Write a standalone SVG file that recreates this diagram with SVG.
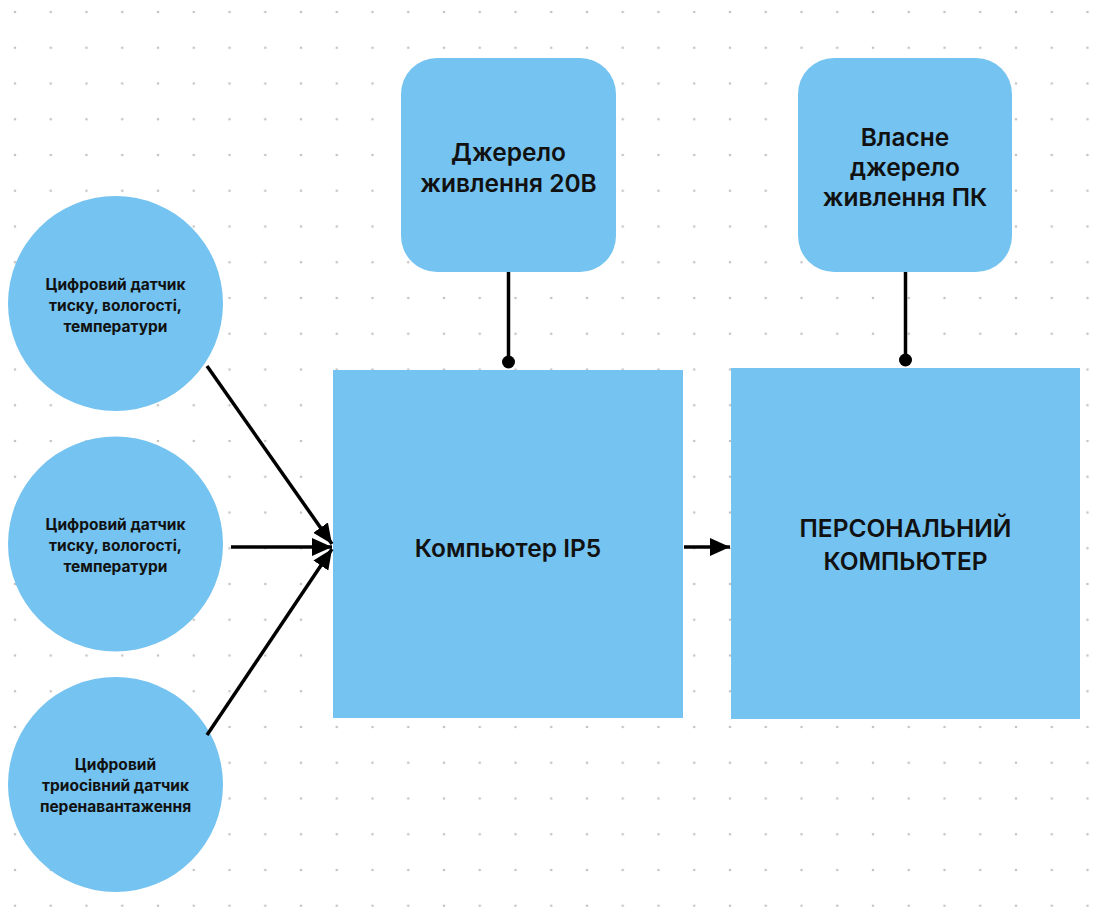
<svg xmlns="http://www.w3.org/2000/svg" width="1119" height="907" viewBox="0 0 1119 907">
<defs>
<pattern id="dots" x="15" y="12" width="35.75" height="35.75" patternUnits="userSpaceOnUse">
<circle cx="0" cy="0" r="1.3" fill="#c4c4c4"/>
<circle cx="35.75" cy="0" r="1.3" fill="#c4c4c4"/>
<circle cx="0" cy="35.75" r="1.3" fill="#c4c4c4"/>
<circle cx="35.75" cy="35.75" r="1.3" fill="#c4c4c4"/>
</pattern>
<marker id="arr" viewBox="0 0 20 18" refX="20" refY="9" markerWidth="20" markerHeight="18" orient="auto" markerUnits="userSpaceOnUse">
<path d="M0,0 L20,9 L0,18 z" fill="#000"/>
</marker>
<style>
.n{fill:#75C3F0}
.t{font-family:Inter,"Liberation Sans",sans-serif;font-weight:700;fill:#111;text-anchor:middle}
.s{font-size:15.5px}
.b{font-size:24.5px;font-weight:600}
.c{stroke:#000;stroke-width:3.5;fill:none}
</style>
</defs>
<rect width="1119" height="907" fill="#fff"/>
<rect width="1119" height="907" fill="url(#dots)"/>
<g id="sensor1">
<circle class="n" cx="115.5" cy="303.5" r="107.5"/>
<text class="t s" x="115.5" y="290">Цифровий датчик</text>
<text class="t s" x="115.5" y="311">тиску, вологості,</text>
<text class="t s" x="115.5" y="332">температури</text>
</g>
<g id="sensor2">
<circle class="n" cx="115.5" cy="544" r="107.5"/>
<text class="t s" x="115.5" y="530">Цифровий датчик</text>
<text class="t s" x="115.5" y="551">тиску, вологості,</text>
<text class="t s" x="115.5" y="572">температури</text>
</g>
<g id="sensor3">
<circle class="n" cx="115.5" cy="784.5" r="107.5"/>
<text class="t s" x="115.5" y="770">Цифровий</text>
<text class="t s" x="115.5" y="791">триосівний датчик</text>
<text class="t s" x="115.5" y="812">перенавантаження</text>
</g>
<g id="power20">
<rect class="n" x="401" y="58" width="215" height="214" rx="36"/>
<text class="t b" x="508.5" y="161">Джерело</text>
<text class="t b" x="508.5" y="192">живлення 20В</text>
</g>
<g id="powerPC">
<rect class="n" x="798" y="58" width="214" height="214" rx="36"/>
<text class="t b" x="905" y="146">Власне</text>
<text class="t b" x="905" y="176">джерело</text>
<text class="t b" x="905" y="206">живлення ПК</text>
</g>
<g id="ip5">
<rect class="n" x="333" y="370" width="350" height="348"/>
<text class="t b" x="508" y="557">Компьютер IP5</text>
</g>
<g id="pc">
<rect class="n" x="731" y="368" width="349" height="351"/>
<text class="t b" x="905.5" y="537">ПЕРСОНАЛЬНИЙ</text>
<text class="t b" x="905.5" y="570">КОМПЬЮТЕР</text>
</g>
<g id="connectors">
<line class="c" x1="207" y1="366" x2="332" y2="544" marker-end="url(#arr)"/>
<line class="c" x1="231" y1="547" x2="332" y2="547" marker-end="url(#arr)"/>
<line class="c" x1="207" y1="735" x2="332" y2="549" marker-end="url(#arr)"/>
<line class="c" x1="684" y1="547" x2="730" y2="547" marker-end="url(#arr)"/>
<line class="c" x1="508.5" y1="272" x2="508.5" y2="362"/>
<circle cx="508.5" cy="362" r="6.5" fill="#000"/>
<line class="c" x1="905.5" y1="272" x2="905.5" y2="360"/>
<circle cx="905.5" cy="360" r="6.5" fill="#000"/>
</g>
</svg>
